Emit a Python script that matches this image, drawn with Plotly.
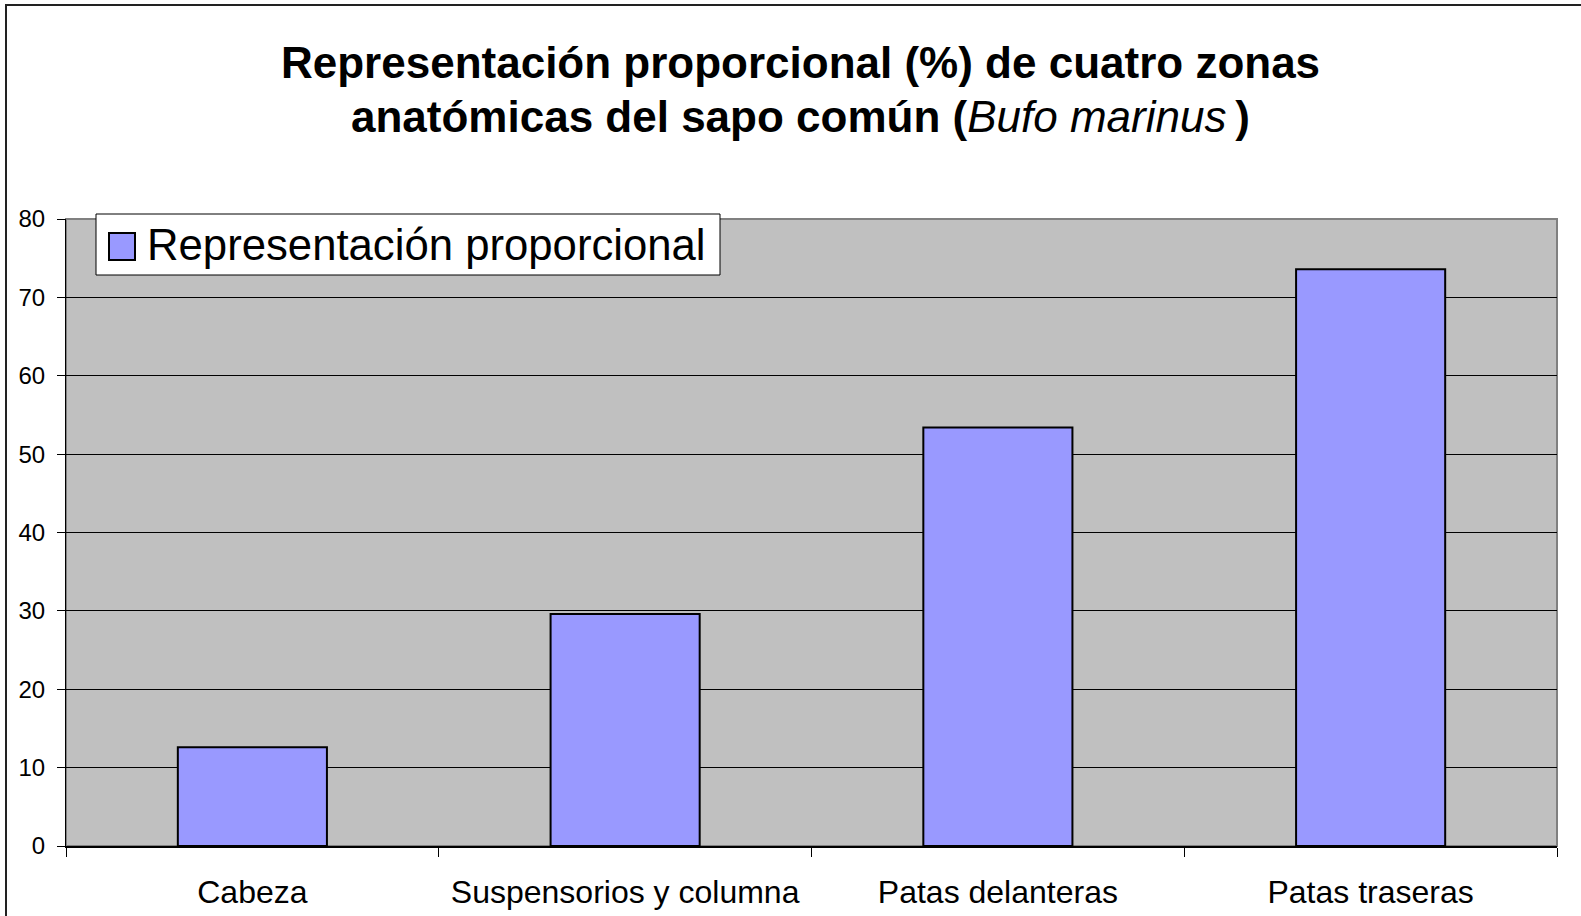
import plotly.graph_objects as go

categories = ["Cabeza", "Suspensorios y columna", "Patas delanteras", "Patas traseras"]
values = [12.6, 29.6, 53.4, 73.6]
series_name = "Representación proporcional"
y_ticks = [0, 10, 20, 30, 40, 50, 60, 70, 80]

W, H = 1581, 916
L, R, T, B = 66, 24, 219, 70
PW, PH = W - L - R, H - T - B

def px_x(x):
    return (x - L) / PW

def px_y(y):
    return (H - B - y) / PH

FONT = "Liberation Sans, Arial, sans-serif"

fig = go.Figure()
fig.add_trace(go.Bar(
    x=categories, y=values, name=series_name, showlegend=False,
    marker=dict(color="#9999FF", line=dict(color="#000000", width=2)),
    width=0.4,
))

shapes = [
    # plot area border (grey)
    dict(type="rect", xref="paper", yref="paper", x0=0, x1=1, y0=0, y1=1,
         line=dict(color="#808080", width=2), layer="below"),
    # outer chart frame (extends beyond the visible page on right/bottom)
    dict(type="rect", xref="paper", yref="paper", x0=px_x(6), x1=px_x(W + 20),
         y0=px_y(H + 20), y1=px_y(5), line=dict(color="#222222", width=2)),
    # legend box
    dict(type="rect", xref="paper", yref="paper", x0=px_x(96), x1=px_x(720),
         y0=px_y(275), y1=px_y(214), line=dict(color="#000000", width=1),
         fillcolor="#FFFFFF"),
    # legend swatch
    dict(type="rect", xref="paper", yref="paper", x0=px_x(109), x1=px_x(135),
         y0=px_y(260), y1=px_y(233), line=dict(color="#000000", width=2),
         fillcolor="#9999FF"),
]

annotations = [
    dict(text="<b>Representación proporcional (%) de cuatro zonas</b>",
         xref="paper", yref="paper", x=px_x(800), y=px_y(62),
         xanchor="center", yanchor="middle", showarrow=False,
         font=dict(family=FONT, size=44, color="#000000")),
    dict(text="<b>anatómicas del sapo común (</b><i>Bufo marinus</i><b>\u2009)</b>",
         xref="paper", yref="paper", x=px_x(800), y=px_y(116),
         xanchor="center", yanchor="middle", showarrow=False,
         font=dict(family=FONT, size=44, color="#000000")),
    dict(text=series_name, xref="paper", yref="paper",
         x=px_x(145), y=px_y(245), xanchor="left", yanchor="middle",
         showarrow=False, font=dict(family=FONT, size=43.7, color="#000000")),
]

fig.update_layout(
    width=W, height=H,
    margin=dict(l=L, r=R, t=T, b=B, autoexpand=False),
    paper_bgcolor="#FFFFFF",
    plot_bgcolor="#C0C0C0",
    font=dict(family=FONT, color="#000000"),
    showlegend=False,
    shapes=shapes,
    annotations=annotations,
    bargap=0.6,
)

fig.update_xaxes(
    type="category", tickson="boundaries", ticks="outside", ticklen=9,
    tickcolor="#000000", tickwidth=1, automargin=False,
    showline=True, linecolor="#000000", linewidth=2,
    showgrid=False, tickfont=dict(size=32, family=FONT, color="#000000"),
    ticklabelstandoff=17,
)
fig.update_yaxes(
    range=[0, 80], tickvals=y_ticks, ticks="outside", ticklen=8,
    tickcolor="#000000", tickwidth=1, automargin=False,
    showline=True, linecolor="#000000", linewidth=1,
    showgrid=True, gridcolor="#000000", gridwidth=1, zeroline=False,
    tickfont=dict(size=24, family=FONT, color="#000000"),
    ticklabelstandoff=7,
)

fig.write_html(
    "out.html",
    config={"displayModeBar": False},
    post_script="document.body.style.margin='0';document.body.style.overflow='hidden';",
)
